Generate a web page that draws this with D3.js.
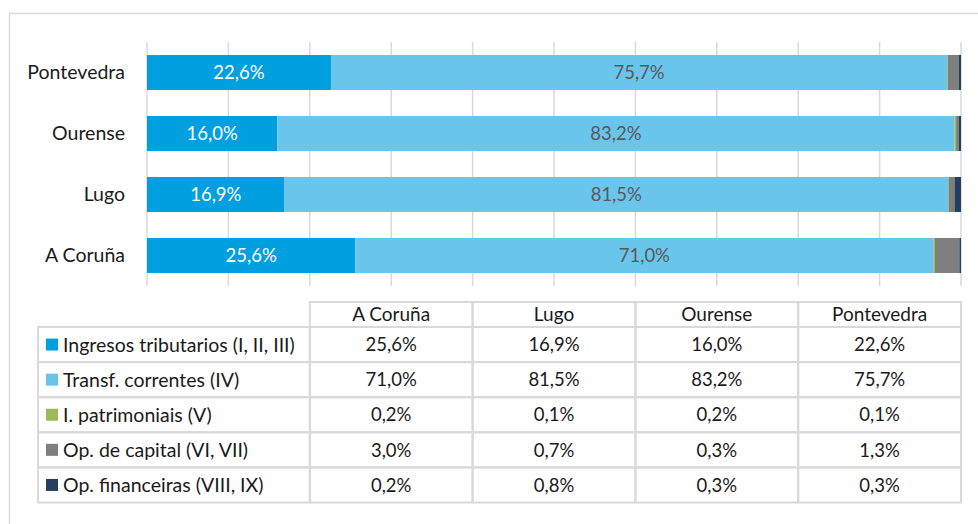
<!DOCTYPE html>
<html><head><meta charset="utf-8">
<script src="https://cdn.jsdelivr.net/npm/d3@7"></script>
<style>body{margin:0;background:#fff}svg{display:block}</style>
</head><body>
<svg id="c" width="978" height="524"></svg>
<script>
const provinces = ["Pontevedra","Ourense","Lugo","A Coruña"];
const tableCols = ["A Coruña","Lugo","Ourense","Pontevedra"];
const seriesNames = ["Ingresos tributarios (I, II, III)","Transf. correntes (IV)","I. patrimoniais (V)","Op. de capital (VI, VII)","Op. financeiras (VIII, IX)"];
const seriesColors = ["#009fdf","#6ac5ec","#9bbb59","#7f7f7f","#243f60"];
// values per series, in order A Coruña, Lugo, Ourense, Pontevedra
const tributarios = [25.6,16.9,16.0,22.6];
const transferencias = [71.0,81.5,83.2,75.7];
const patrimoniais = [0.2,0.1,0.2,0.1];
const capital = [3.0,0.7,0.3,1.3];
const financeiras = [0.2,0.8,0.3,0.3];
const xTicks = [0,10,20,30,40,50,60,70,80,90,100];

const series = [tributarios,transferencias,patrimoniais,capital,financeiras];
const fmt = v => v.toFixed(1).replace(".",",")+"%";
const svg = d3.select("#c");
const FONT = "Lato, 'Open Sans', sans-serif";
const WT = 400;
const TXT = "#1a1a1a";

svg.append("rect").attr("x",9.5).attr("y",13.5).attr("width",1100).attr("height",700)
  .attr("fill","none").attr("stroke","#d9d9d9").attr("stroke-width",1.5);

const x = d3.scaleLinear().domain([0,100]).range([147,961]);
const y = d3.scaleBand().domain(provinces).range([42,286]).paddingInner(0.426).paddingOuter(0.213);

svg.append("g").selectAll("line").data(xTicks).join("line")
  .attr("x1",d=>x(d)).attr("x2",d=>x(d)).attr("y1",42).attr("y2",286)
  .attr("stroke","#d9d9d9").attr("stroke-width",1.5);

// stacked data
const rows = provinces.map(p => {
  const i = tableCols.indexOf(p);
  const o = {prov:p};
  seriesNames.forEach((s,k)=>o[s]=series[k][i]);
  return o;
});
const stack = d3.stack().keys(seriesNames)(rows);
const g = svg.append("g");
stack.forEach((layer,k)=>{
  g.append("g").selectAll("rect").data(layer).join("rect")
    .attr("x",d=>x(d[0])).attr("width",d=>x(d[1])-x(d[0]))
    .attr("y",d=>y(d.data.prov)).attr("height",y.bandwidth())
    .attr("fill",seriesColors[k]);
  if(k<2){
    g.append("g").selectAll("text").data(layer).join("text")
      .attr("x",d=>(x(d[0])+x(d[1]))/2).attr("y",d=>y(d.data.prov)+y.bandwidth()/2)
      .attr("dy","0.36em").attr("text-anchor","middle")
      .attr("font-family",FONT).attr("font-size",18.5).attr("font-weight",WT)
      .attr("fill",k===0?"#ffffff":"#595959")
      .text(d=>fmt(d[1]-d[0]));
  }
});

// y axis labels
const yAxis = d3.axisLeft(y).tickSize(0).tickPadding(22);
const ya = svg.append("g").attr("transform","translate(147,0)").call(yAxis);
ya.select(".domain").remove();
ya.selectAll("text").attr("font-family",FONT).attr("font-size",19.5).attr("font-weight",WT).attr("fill",TXT);

// data table
const colX = d3.scaleBand().domain(tableCols).range([x(20),x(100)]);
const headTop = 302, headH = 25, rowH = 35.1, leftX = 38;
const bodyTop = headTop+headH;
const tg = svg.append("g");
const stroke = "#d9d9d9", sw = 2;
tableCols.forEach(c=>{
  tg.append("rect").attr("x",colX(c)).attr("y",headTop).attr("width",colX.bandwidth()).attr("height",headH)
    .attr("fill","none").attr("stroke",stroke).attr("stroke-width",sw);
  tg.append("text").attr("x",colX(c)+colX.bandwidth()/2).attr("y",headTop+headH/2).attr("dy","0.36em")
    .attr("text-anchor","middle").attr("font-family",FONT).attr("font-size",19).attr("font-weight",WT).attr("fill",TXT).text(c);
});
seriesNames.forEach((s,k)=>{
  const ty = bodyTop + k*rowH;
  tg.append("rect").attr("x",leftX).attr("y",ty).attr("width",colX(tableCols[0])-leftX).attr("height",rowH)
    .attr("fill","none").attr("stroke",stroke).attr("stroke-width",sw);
  tg.append("rect").attr("x",46).attr("y",ty+rowH/2-6).attr("width",12).attr("height",12).attr("fill",seriesColors[k]);
  tg.append("text").attr("x",63).attr("y",ty+rowH/2).attr("dy","0.36em")
    .attr("font-family",FONT).attr("font-size",19.5).attr("font-weight",WT).attr("fill",TXT).text(s);
  tableCols.forEach((c,i)=>{
    tg.append("rect").attr("x",colX(c)).attr("y",ty).attr("width",colX.bandwidth()).attr("height",rowH)
      .attr("fill","none").attr("stroke",stroke).attr("stroke-width",sw);
    tg.append("text").attr("x",colX(c)+colX.bandwidth()/2).attr("y",ty+rowH/2).attr("dy","0.36em")
      .attr("text-anchor","middle").attr("font-family",FONT).attr("font-size",18.5).attr("font-weight",WT).attr("fill",TXT)
      .text(fmt(series[k][i]));
  });
});
</script>
</body></html>
